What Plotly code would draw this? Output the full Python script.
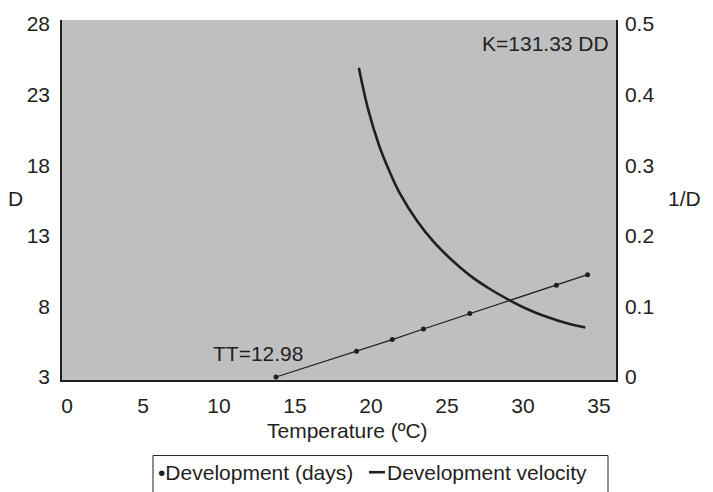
import plotly.graph_objects as go

# ---- data ----
temp_pts = [13.75, 19.05, 21.4, 23.45, 26.5, 32.2, 34.25]
velocity_pts = [0.0, 0.0365, 0.053, 0.068, 0.090, 0.130, 0.145]

curve_temp = [19.2, 19.8, 20.5, 21.2, 21.9, 23.0, 24.1, 25.3, 26.5, 27.8, 29.1, 30.3, 31.6, 32.9, 34.1]
curve_days = [24.9, 22.0, 19.5, 17.6, 16.0, 14.1, 12.6, 11.3, 10.2, 9.25, 8.45, 7.8, 7.25, 6.8, 6.5]

x_ticks = [0, 5, 10, 15, 20, 25, 30, 35]
y_left_ticks = [3, 8, 13, 18, 23, 28]
y_right_ticks = [0, 0.1, 0.2, 0.3, 0.4, 0.5]
y_right_text = ["0", "0.1", "0.2", "0.3", "0.4", "0.5"]

legend_names = ["Development (days)", "Development velocity"]

ink = "#231F20"
FONT = "Liberation Sans, Arial, sans-serif"
FS = 21

W, H = 713, 492
ML, MR, MT, MB = 62, 97, 13, 112
PW, PH = W - ML - MR, H - MT - MB


def px(xp):
    return (xp - ML) / PW


def py(yp):
    return (H - MB - yp) / PH


def label(text, x, y, xanchor="center"):
    return dict(text=text, xref="paper", yref="paper", x=px(x), y=py(y),
                xanchor=xanchor, yanchor="middle", showarrow=False)


fig = go.Figure()

# points (right axis)
fig.add_trace(go.Scatter(
    x=temp_pts, y=velocity_pts, mode="lines+markers", name=legend_names[0],
    line=dict(color=ink, width=1.2), marker=dict(color=ink, size=5),
    yaxis="y2", showlegend=False,
))
# curve (left axis)
fig.add_trace(go.Scatter(
    x=curve_temp, y=curve_days, mode="lines", name=legend_names[1],
    line=dict(color=ink, width=2.6, shape="spline", smoothing=1.0),
    yaxis="y", showlegend=False,
))

annotations = [
    label("D", 15, 195),
    label("1/D", 684, 195),
    label("K=131.33 DD", 611, 37, "right"),
    label("TT=12.98", 258, 353),
    label("Temperature (ºC)", 347, 431),
    label("•" + legend_names[0], 156, 474, "left"),
    label(legend_names[1], 385, 474, "left"),
]

shapes = [
    # legend box (bottom runs off the page, as in the reference)
    dict(type="rect", xref="paper", yref="paper", x0=px(153), x1=px(608),
         y0=py(457), y1=py(505), line=dict(color=ink, width=1), fillcolor="white",
         layer="below"),
    # legend line glyph
    dict(type="line", xref="paper", yref="paper", x0=px(369), x1=px(385),
         y0=py(474), y1=py(474), line=dict(color=ink, width=2.6)),
]

fig.update_layout(
    width=W, height=H,
    margin=dict(l=ML, r=MR, t=MT, b=MB),
    paper_bgcolor="white",
    plot_bgcolor="#BEBFC1",
    font=dict(family=FONT, size=FS, color=ink),
    showlegend=False,
    xaxis=dict(
        range=[-0.33, 36.12], tickvals=x_ticks, showgrid=False, zeroline=False,
        showline=True, linecolor=ink, linewidth=1.5, ticks="",
        ticklabelstandoff=6,
    ),
    yaxis=dict(
        range=[2.79, 28.28], tickvals=y_left_ticks, showgrid=False, zeroline=False,
        showline=True, linecolor=ink, linewidth=1.5, ticks="", ticklabelstandoff=6,
    ),
    yaxis2=dict(
        range=[-0.0042, 0.5056], tickvals=y_right_ticks, ticktext=y_right_text,
        overlaying="y", side="right", showgrid=False, zeroline=False,
        showline=True, linecolor=ink, linewidth=1.5, ticks="", ticklabelstandoff=3,
    ),
    annotations=annotations,
    shapes=shapes,
)

fig.write_html("out.html")
